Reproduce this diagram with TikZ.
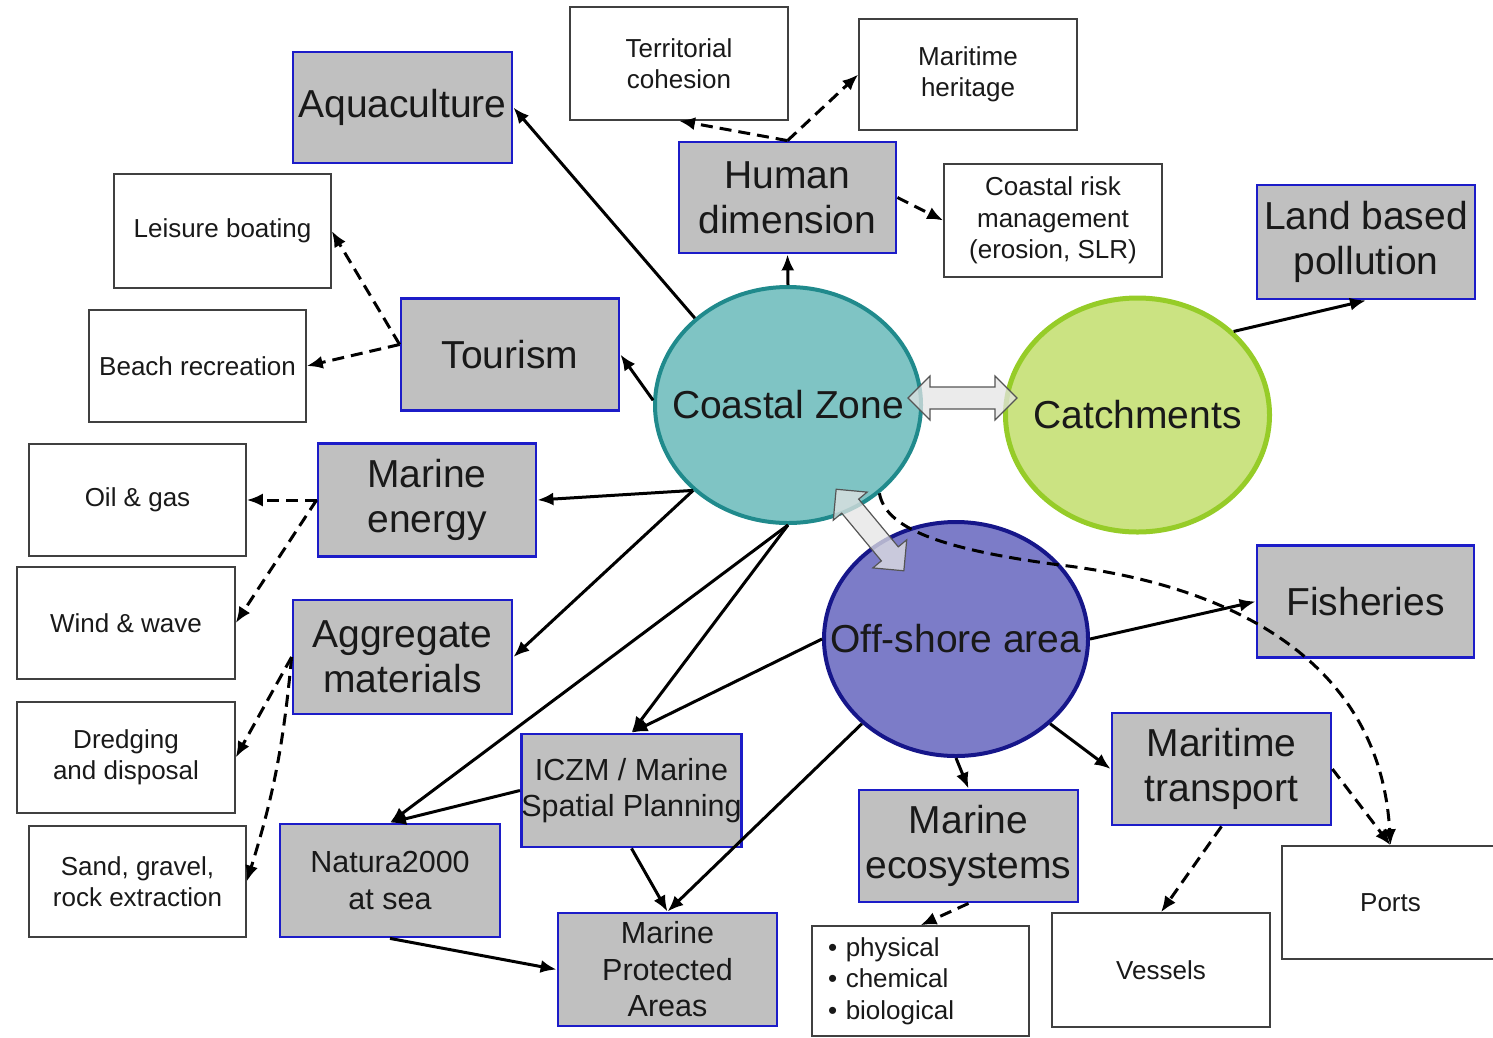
\documentclass[tikz,border=0pt]{standalone}
\usepackage{fontspec}
\setmainfont{Liberation Sans}
\usetikzlibrary{arrows.meta,shapes.geometric}
\definecolor{boxgray}{RGB}{192,192,192}
\definecolor{boxblue}{RGB}{28,28,200}
\definecolor{czfill}{RGB}{127,196,196}
\definecolor{czdraw}{RGB}{32,138,140}
\definecolor{catfill}{RGB}{203,227,130}
\definecolor{catdraw}{RGB}{150,204,40}
\definecolor{osfill}{RGB}{124,124,200}
\definecolor{osdraw}{RGB}{22,22,138}
\definecolor{baFill}{RGB}{228,228,228}
\definecolor{baDraw}{RGB}{85,85,85}
\newcommand\myBig{\fontsize{39}{45}\selectfont}
\newcommand\myMid{\fontsize{30.5}{36.5}\selectfont}
\newcommand\mySmall{\fontsize{26}{31.5}\selectfont}
\begin{document}
\begin{tikzpicture}[x=1pt,y=-1pt,
  mainbox/.style={draw=boxblue, line width=2.8pt, fill=boxgray, align=center, inner sep=0pt, font=\myBig, text=black!90},
  midbox/.style={mainbox, font=\myMid},
  whitebox/.style={draw=black!75, line width=1.5pt, fill=white, align=center, inner sep=0pt, font=\mySmall, text=black!90},
  zone/.style={ellipse, inner sep=0pt, font=\myBig, line width=4pt, text=black!90},
  arr/.style={line width=3pt, -{Latex[length=16pt,width=13pt]}},
  darr/.style={arr, dash pattern=on 12pt off 7pt},
  blockarrow/.style={draw=baDraw, line width=1.2pt, fill=baFill, fill opacity=0.75}
]
\useasboundingbox (0,0) rectangle (1493,1037);

% zones
\node[zone, draw=czdraw, fill=czfill, minimum width=266pt, minimum height=236pt] (cz) at (788,405) {\makebox[0pt]{Coastal Zone}};
\node[zone, draw=catdraw, fill=catfill, line width=5pt, minimum width=264pt, minimum height=234pt] (cat) at (1137.5,415) {\makebox[0pt]{Catchments}};
\node[zone, draw=osdraw, fill=osfill, minimum width=264pt, minimum height=234pt] (os) at (956,639) {\makebox[0pt]{Off-shore area}};

% main boxes
\node[mainbox, minimum width=219pt, minimum height=111pt] (aqua) at (402.5,107.5) {Aquaculture};
\node[mainbox, minimum width=217pt, minimum height=111pt] (hd) at (787.5,197.5) {Human\\dimension};
\node[mainbox, minimum width=218pt, minimum height=114pt] (lbp) at (1366,242) {Land based\\pollution};
\node[mainbox, minimum width=218pt, minimum height=112pt] (tour) at (510,354.5) {Tourism};
\node[mainbox, minimum width=218pt, minimum height=113pt] (me) at (427,500) {Marine\\energy};
\node[mainbox, minimum width=219pt, minimum height=114pt] (ag) at (402.5,657) {Aggregate\\materials};
\node[midbox, minimum width=219pt, minimum height=113pt] (iczm) at (631.5,790.5) {ICZM / Marine\\Spatial Planning};
\node[midbox, minimum width=220pt, minimum height=113pt] (nat) at (390,880.5) {Natura2000\\at sea};
\node[midbox, minimum width=219pt, minimum height=113pt] (mpa) at (667.5,969.5) {Marine\\Protected\\Areas};
\node[mainbox, minimum width=219pt, minimum height=112pt] (eco) at (968.5,846) {Marine\\ecosystems};
\node[mainbox, minimum width=219pt, minimum height=112pt] (mt) at (1221.5,769) {Maritime\\transport};
\node[mainbox, minimum width=217pt, minimum height=112pt] (fish) at (1365.5,601.5) {Fisheries};

% white boxes
\node[whitebox, minimum width=218pt, minimum height=113pt] (terr) at (679,63.5) {Territorial\\cohesion};
\node[whitebox, minimum width=218pt, minimum height=111pt] (her) at (968,74.5) {Maritime\\heritage};
\node[whitebox, minimum width=218pt, minimum height=113pt] (risk) at (1053,220.5) {Coastal risk\\management\\(erosion, SLR)};
\node[whitebox, minimum width=217pt, minimum height=114pt] (leis) at (222.5,231) {Leisure boating};
\node[whitebox, minimum width=217pt, minimum height=112pt] (beach) at (197.5,366) {Beach recreation};
\node[whitebox, minimum width=217pt, minimum height=112pt] (oil) at (137.5,500) {Oil \& gas};
\node[whitebox, minimum width=218pt, minimum height=112pt] (wind) at (126,623) {Wind \& wave};
\node[whitebox, minimum width=218pt, minimum height=111pt] (dredge) at (126,757.5) {Dredging\\and disposal};
\node[whitebox, minimum width=217pt, minimum height=111pt] (sand) at (137.5,881.5) {Sand, gravel,\\rock extraction};
\node[whitebox, minimum width=217pt, minimum height=110pt, text width=185pt, align=left] (list) at (920.5,981) {\textbullet\ physical\\\textbullet\ chemical\\\textbullet\ biological};
\node[whitebox, minimum width=218pt, minimum height=114pt] (ves) at (1161,970) {Vessels};
\node[whitebox, minimum width=217pt, minimum height=113pt] (ports) at (1390.5,902.5) {Ports};

% block arrows
\begin{scope}[shift={(962.5,398)}]
\draw[blockarrow] (-54.5,0) -- (-32.5,-22) -- (-32.5,-11) -- (32.5,-11) -- (32.5,-22) -- (54.5,0) -- (32.5,22) -- (32.5,11) -- (-32.5,11) -- (-32.5,22) -- cycle;
\end{scope}
\begin{scope}[shift={(870,530)}, rotate=-50.3]
\draw[blockarrow] (-53,0) -- (-31,-22) -- (-31,-11) -- (31,-11) -- (31,-22) -- (53,0) -- (31,22) -- (31,11) -- (-31,11) -- (-31,22) -- cycle;
\end{scope}

% solid connectors
\draw[arr] (cz.137) -- (aqua.east);
\draw[arr] (cz.north) -- (hd.south);
\draw[arr] (cz.178) -- (tour.east);
\draw[arr] (cz.222) -- (me.east);
\draw[arr] (cz.222) -- (ag.east);
\draw[arr] (cz.south) -- (nat.north);
\draw[arr] (cz.south) -- (iczm.north);
\draw[arr] (os.west) -- (iczm.north);
\draw[arr] (iczm.west) -- (nat.north);
\draw[arr] (iczm.south) -- (mpa.north);
\draw[arr] (os.222) -- (mpa.north);
\draw[arr] (nat.south) -- (mpa.west);
\draw[arr] (os.east) -- (fish.west);
\draw[arr] (os.318) -- (mt.west);
\draw[arr] (os.south) -- (eco.north);
\draw[arr] (cat.41) -- (lbp.south);

% dashed connectors
\draw[darr] (hd.north) -- (terr.south);
\draw[darr] (hd.north) -- (her.west);
\draw[darr] (hd.east) -- (risk.west);
\draw[darr] ([yshift=10pt]tour.west) -- (leis.east);
\draw[darr] ([yshift=10pt]tour.west) -- (beach.east);
\draw[darr] (me.west) -- (oil.east);
\draw[darr] (me.west) -- (wind.east);
\draw[darr] (ag.west) -- (dredge.east);
\draw[darr] (ag.west) to[bend left=6] (sand.east);
\draw[darr] (eco.south) -- (list.north);
\draw[darr] (mt.south) -- (ves.north);
\draw[darr] (mt.east) -- (ports.north);
\draw[darr] (cz.316) .. controls (885,525) and (930,548) .. (1060,565) .. controls (1230,585) and (1380,660) .. (ports.north);
\end{tikzpicture}
\end{document}
